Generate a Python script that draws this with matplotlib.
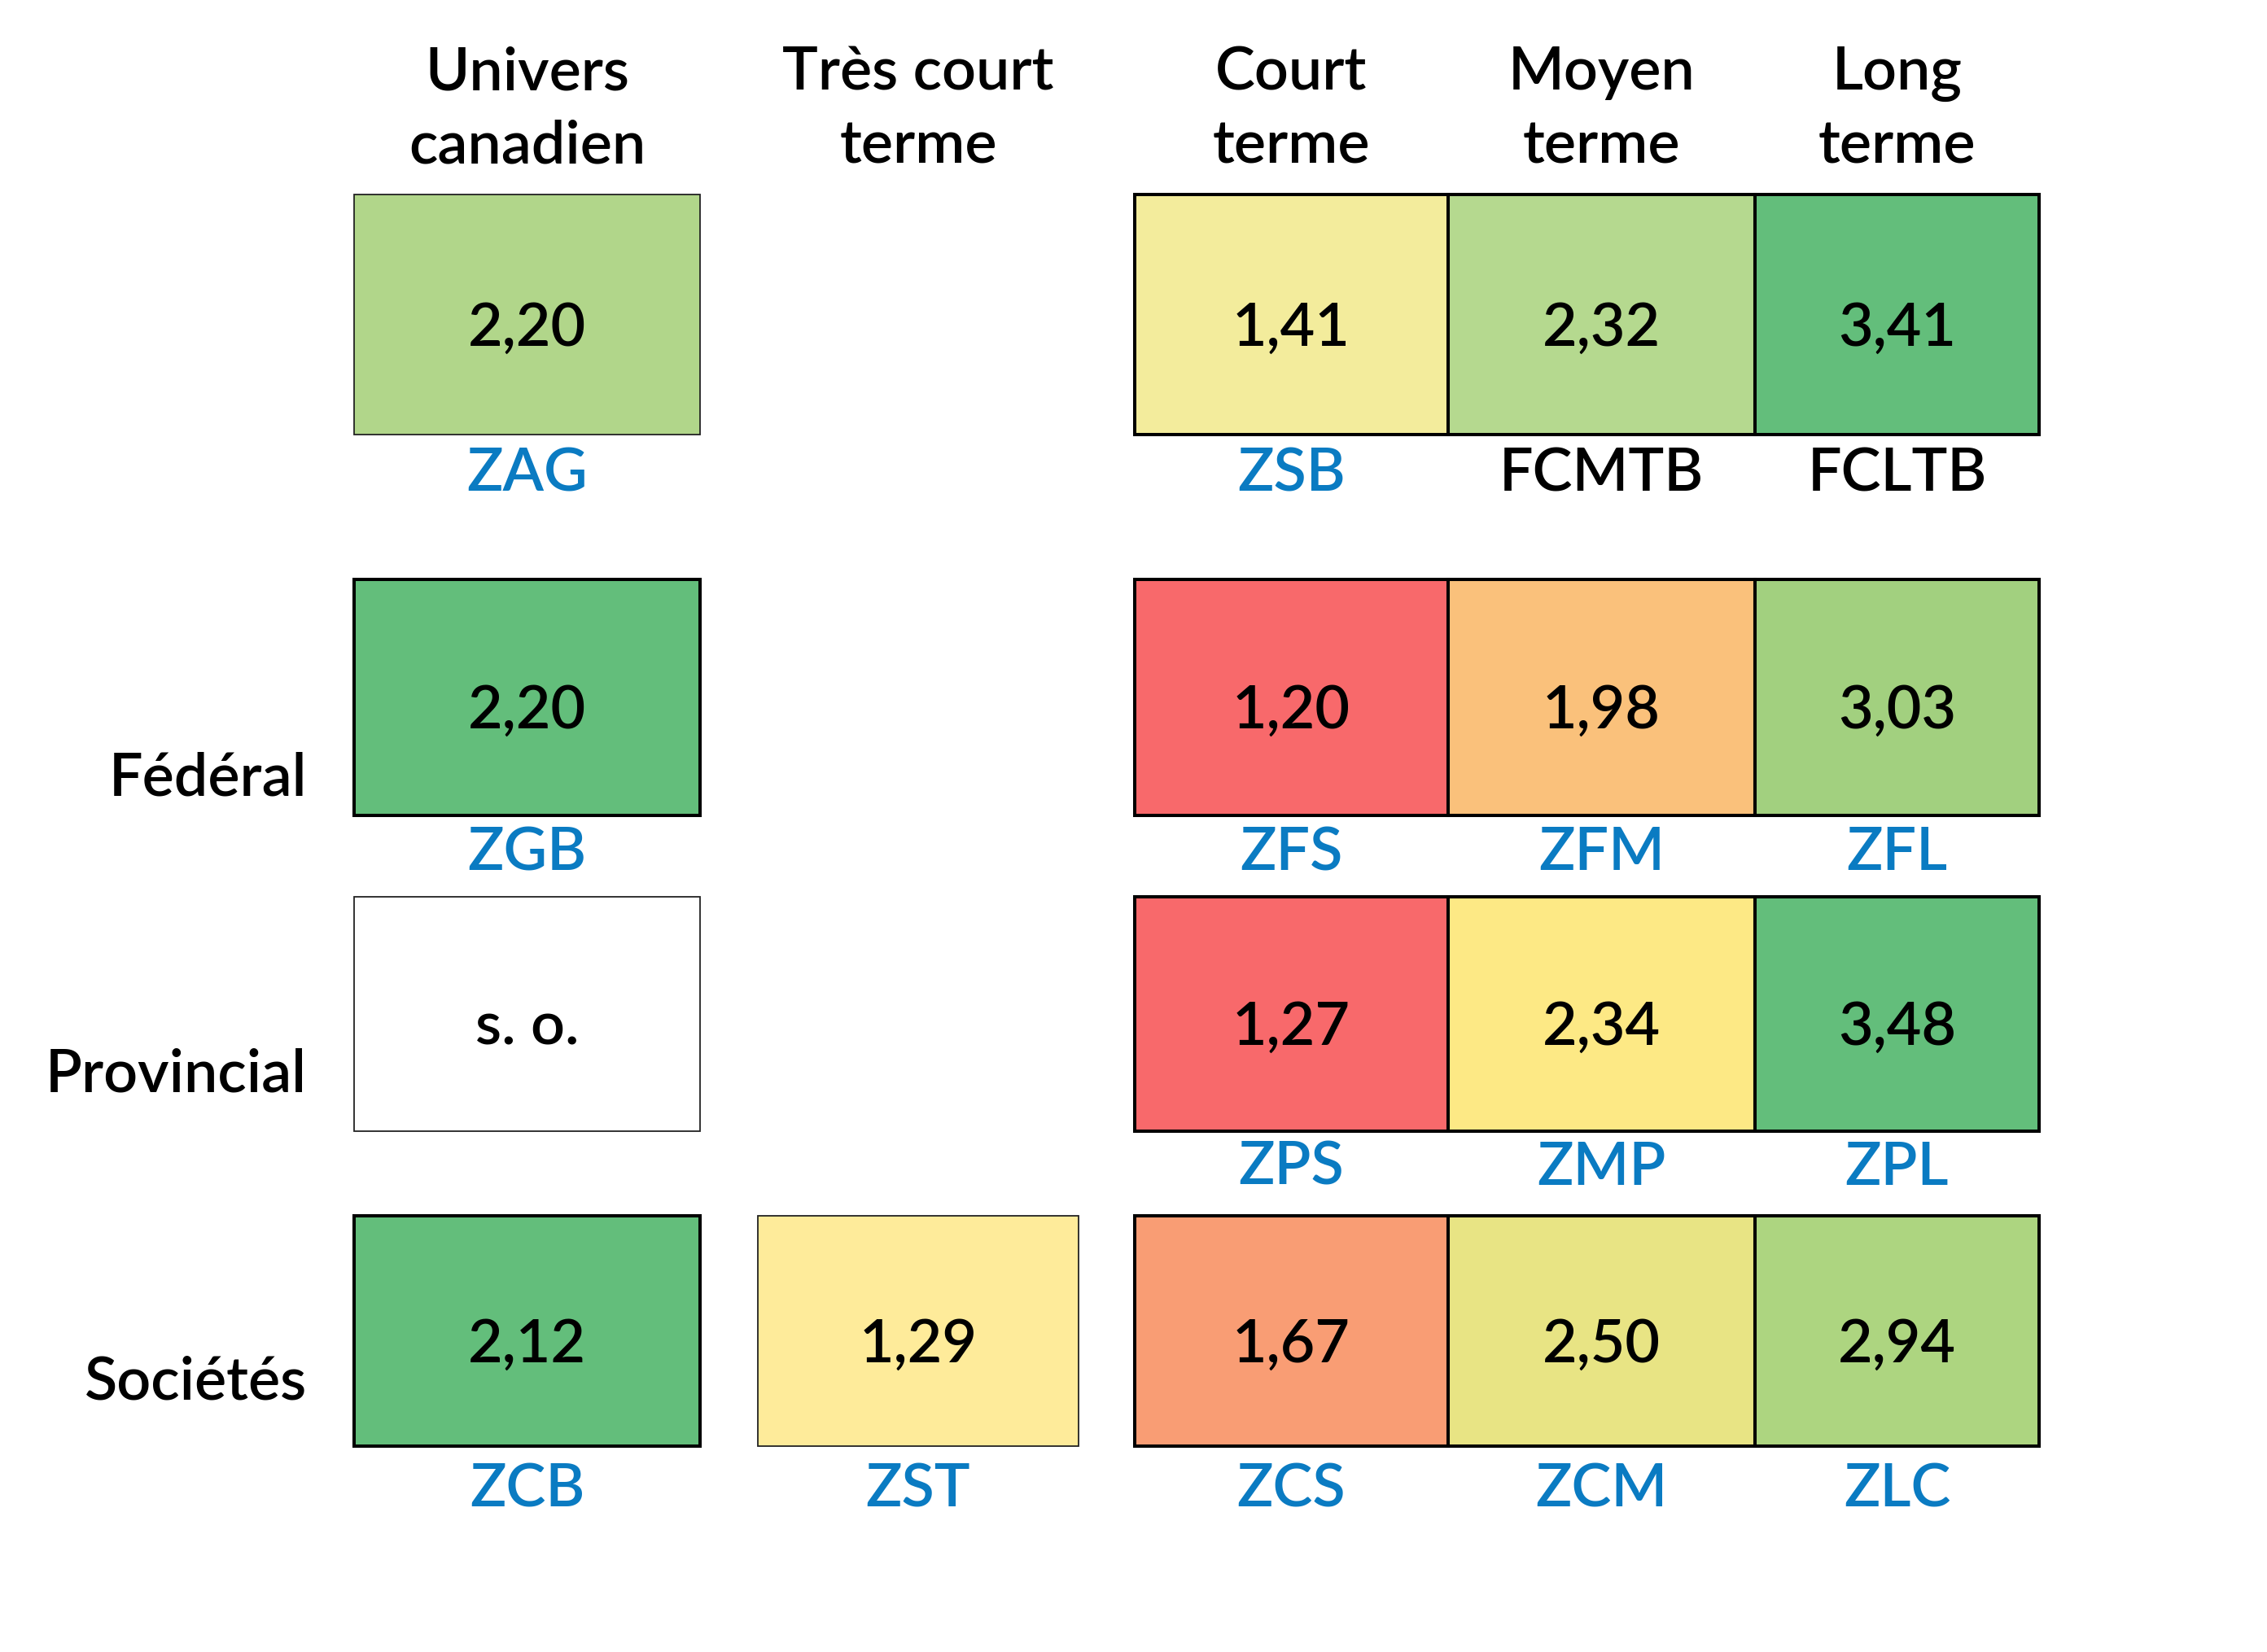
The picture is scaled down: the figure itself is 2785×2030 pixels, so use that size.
import numpy as np
import matplotlib.pyplot as plt
from matplotlib.patches import Rectangle
from matplotlib import font_manager

# ---------------- données ----------------
row_labels = ["", "Fédéral", "Provincial", "Sociétés"]
col_labels = ["Univers\ncanadien", "Très court\nterme", "Court\nterme", "Moyen\nterme", "Long\nterme"]

# None = pas de case, np.nan = case « s. o. »
values = [
    [2.20, None, 1.41, 2.32, 3.41],
    [2.20, None, 1.20, 1.98, 3.03],
    [np.nan, None, 1.27, 2.34, 3.48],
    [2.12, 1.29, 1.67, 2.50, 2.94],
]
tickers = [
    ["ZAG", "", "ZSB", "FCMTB", "FCLTB"],
    ["ZGB", "", "ZFS", "ZFM", "ZFL"],
    ["", "", "ZPS", "ZMP", "ZPL"],
    ["ZCB", "ZST", "ZCS", "ZCM", "ZLC"],
]
other_issuer = {"FCMTB", "FCLTB"}

# ---------------- styles ----------------
cell_colors = [
    ["#B1D68A", None, "#F3EC9C", "#B5D98F", "#63BE7B"],
    ["#63BE7B", None, "#F8696B", "#FAC17B", "#A2D07F"],
    ["#FFFFFF", None, "#F8696B", "#FDE985", "#63BE7B"],
    ["#63BE7B", "#FEEB9A", "#F99D74", "#E8E484", "#ADD580"],
]
thin_cells = {(0, 0), (2, 0), (3, 1)}
blue = "#0A7BC2"

# mise en page (pixels)
col_left = [435, 931, 1394, 1779, 2156]
col_right = [860, 1325, 1779, 2156, 2505]
row_top = [239, 712, 1102, 1494]
row_bot = [534, 1002, 1390, 1777]
label_base = [0, 977, 1341, 1719]
ticker_base = [603, 1069, 1456, 1852]
head_base = [110, 200]

names = {f.name for f in font_manager.fontManager.ttflist}
fam = "Lato" if "Lato" in names else "DejaVu Sans"
plt.rcParams["font.family"] = [fam, "DejaVu Sans"]
fs = 53

fig = plt.figure(figsize=(27.85, 20.30), dpi=100)
ax = fig.add_axes([0, 0, 1, 1])
ax.set_xlim(0, 2785)
ax.set_ylim(2030, 0)
ax.axis("off")

# en-têtes
for j, lab in enumerate(col_labels):
    cx = (col_left[j] + col_right[j]) / 2
    for k, line in enumerate(lab.split("\n")):
        ax.text(cx, head_base[k], line, ha="center", va="baseline",
                fontsize=fs, weight="semibold")

# libellés de lignes
for i, lab in enumerate(row_labels):
    if lab:
        ax.text(377, label_base[i], lab, ha="right", va="baseline",
                fontsize=fs, weight="semibold")

# cases
for i in range(len(values)):
    for j in range(len(values[i])):
        v = values[i][j]
        if v is None:
            continue
        x0, x1 = col_left[j], col_right[j]
        y0, y1 = row_top[i], row_bot[i]
        thin = (i, j) in thin_cells
        ax.add_patch(Rectangle((x0, y0), x1 - x0, y1 - y0,
                               facecolor=cell_colors[i][j],
                               edgecolor="#222222" if thin else "black",
                               lw=1.3 if thin else 2.9, zorder=2 if thin else 3))
        txt = "s. o." if np.isnan(v) else f"{v:.2f}".replace(".", ",")
        ax.text((x0 + x1) / 2, (y0 + y1) / 2 + 38, txt, ha="center",
                va="baseline", fontsize=fs, weight="semibold", zorder=4)
        t = tickers[i][j]
        if t:
            ax.text((x0 + x1) / 2, ticker_base[i], t, ha="center", va="baseline",
                    fontsize=fs, weight="semibold",
                    color="black" if t in other_issuer else blue, zorder=4)

fig.savefig("out.png", dpi=100)
